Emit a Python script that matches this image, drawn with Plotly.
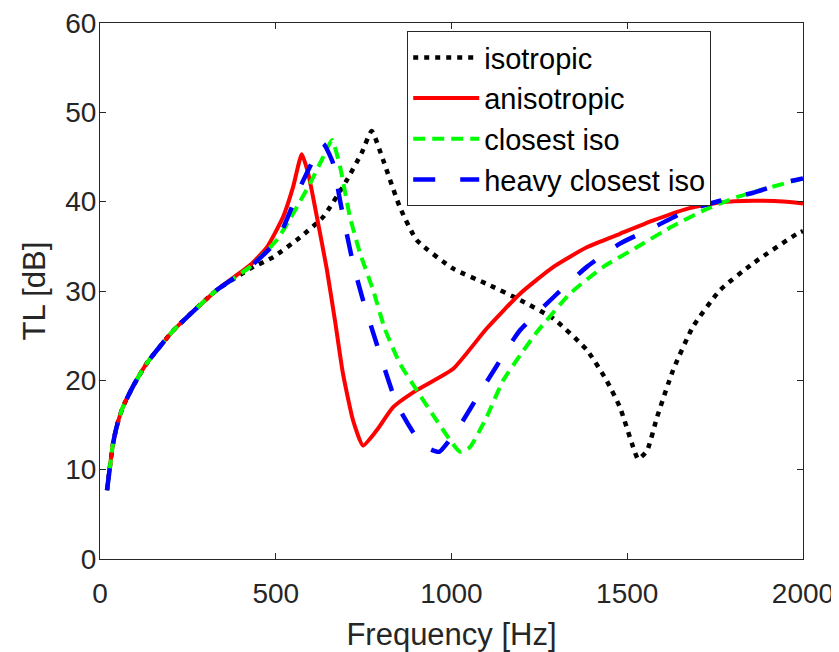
import plotly.graph_objects as go

# ---- data ----
iso_f = [20, 37, 50, 65, 95, 133, 209, 332, 427, 493, 569, 635, 702, 745, 773, 806, 853, 901,
         1005, 1100, 1195, 1290, 1385, 1441, 1479, 1517, 1531, 1556, 1585, 1630, 1687,
         1764, 1858, 1983, 2000]
iso_tl = [7.7, 12.9, 15.2, 17.0, 19.4, 21.9, 25.6, 30.1, 32.5, 33.8, 36.0, 38.3, 42.4, 45.5, 47.9,
          44.6, 39.4, 35.7, 32.5, 30.8, 29.0, 26.9, 23.4, 20.0, 17.0, 12.5, 11.2, 12.1, 15.9,
          21.1, 26.0, 30.1, 33.1, 36.4, 36.7]

aniso_f = [20, 37, 50, 65, 95, 133, 209, 332, 427, 475, 521, 549, 574, 592, 617, 645, 670, 691,
           720, 748, 787, 834, 901, 1005, 1100, 1195, 1290, 1385, 1479, 1574, 1670, 1764,
           1858, 1954, 2000]
aniso_tl = [7.7, 12.9, 15.2, 17.0, 19.4, 21.9, 25.6, 30.1, 32.9, 34.9, 38.3, 41.6, 45.3, 43.2, 38.3,
            32.5, 26.3, 20.8, 15.5, 12.7, 14.4, 17.0, 18.9, 21.3, 25.8, 29.7, 32.7, 34.9,
            36.4, 37.9, 39.2, 39.9, 40.1, 40.0, 39.8]

ciso_f = [20, 37, 50, 65, 95, 133, 209, 332, 427, 503, 550, 597, 635, 660, 683, 711, 740, 777,
          810, 853, 901, 958, 996, 1024, 1052, 1100, 1147, 1195, 1243, 1337, 1432, 1527,
          1622, 1716, 1811, 1906, 2000]
ciso_tl = [7.7, 12.9, 15.2, 17.0, 19.4, 21.9, 25.6, 30.1, 32.7, 35.7, 38.7, 42.0, 45.0, 46.9, 43.9,
           38.3, 34.2, 30.1, 25.8, 21.9, 18.9, 15.5, 13.3, 12.0, 12.5, 15.9, 20.0, 22.8,
           25.4, 29.7, 32.7, 34.9, 37.1, 39.0, 40.5, 41.6, 42.6]

hciso_f = [20, 37, 50, 65, 95, 133, 209, 332, 427, 503, 569, 606, 635, 663, 683, 702, 720, 748,
           787, 844, 901, 939, 965, 1015, 1090, 1175, 1195, 1290, 1385, 1479, 1574, 1670,
           1764, 1858, 1954, 2000]
hciso_tl = [7.7, 12.9, 15.2, 17.0, 19.4, 21.9, 25.6, 30.1, 32.7, 35.6, 41.6, 44.6, 46.5, 44.3, 40.1,
            36.4, 33.1, 29.0, 24.1, 17.4, 13.6, 12.3, 12.0, 14.4, 19.2, 24.5, 25.6, 29.3,
            32.7, 35.3, 37.1, 39.0, 40.1, 41.0, 42.2, 42.6]

x_ticks = [0, 500, 1000, 1500, 2000]
y_ticks = [0, 10, 20, 30, 40, 50, 60]

FONT = "Liberation Sans, Arial, Helvetica, sans-serif"
AX = "#262626"

fig = go.Figure()
fig.add_trace(go.Scatter(x=iso_f, y=iso_tl, mode="lines", name="isotropic",
                         line=dict(color="black", width=4.5, dash="5px,6px", shape="spline", smoothing=0.5)))
fig.add_trace(go.Scatter(x=aniso_f, y=aniso_tl, mode="lines", name="anisotropic",
                         line=dict(color="#ff0000", width=4, shape="spline", smoothing=0.5)))
fig.add_trace(go.Scatter(x=ciso_f, y=ciso_tl, mode="lines", name="closest iso",
                         line=dict(color="#00ff00", width=4, dash="12px,7px", shape="spline", smoothing=0.5)))
fig.add_trace(go.Scatter(x=hciso_f, y=hciso_tl, mode="lines", name="heavy closest iso",
                         line=dict(color="#0000ff", width=4.5, dash="22px,25px", shape="spline", smoothing=0.5)))

# the page places the figure 8px from the top-left corner; margins compensate for that
fig.update_layout(
    width=839, height=652,
    margin=dict(l=92, r=44, t=15, b=101),
    paper_bgcolor="white", plot_bgcolor="white",
    font=dict(family=FONT, color=AX, size=28),
    showlegend=True,
    legend=dict(x=0.437, y=0.985, xanchor="left", yanchor="top",
                bgcolor="white", bordercolor=AX, borderwidth=1,
                font=dict(size=29, color="black", family=FONT),
                itemwidth=66, tracegroupgap=0),
)
fig.update_xaxes(range=[0, 2000], tickvals=x_ticks, ticks="inside", ticklen=6, tickcolor=AX,
                 showline=True, linecolor=AX, linewidth=1.2, mirror="ticks", showgrid=False,
                 zeroline=False, tickfont=dict(size=28, color=AX), automargin=False,
                 ticklabeloverflow="allow", ticklabelstandoff=9,
                 title=dict(text="Frequency [Hz]", font=dict(size=31, color=AX), standoff=15))
fig.update_yaxes(range=[0, 60], tickvals=y_ticks, ticks="inside", ticklen=6, tickcolor=AX,
                 showline=True, linecolor=AX, linewidth=1.2, mirror="ticks", showgrid=False,
                 zeroline=False, tickfont=dict(size=28, color=AX), automargin=False,
                 ticklabeloverflow="allow", ticklabelstandoff=-3,
                 title=dict(text="TL [dB]", font=dict(size=31, color=AX), standoff=10))

fig.write_html("out.html")
